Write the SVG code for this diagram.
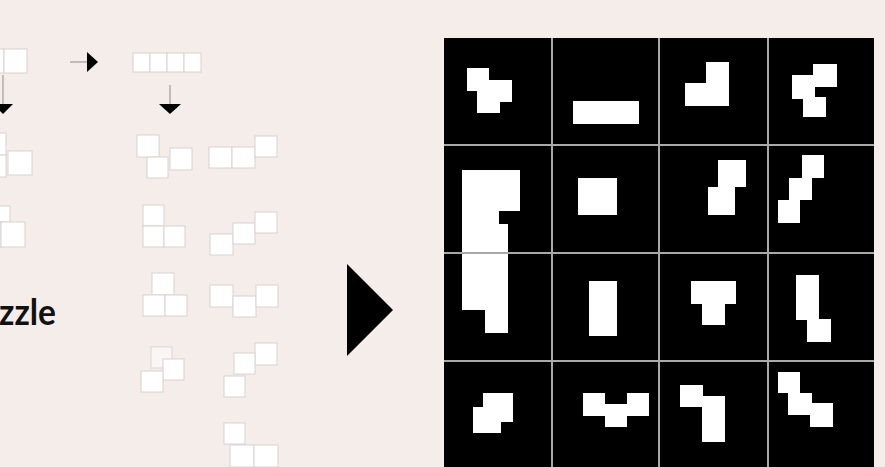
<svg xmlns="http://www.w3.org/2000/svg" width="885" height="467" viewBox="0 0 885 467">
<defs>
<style>
.p{fill:#ffffff;stroke:#d9d2cf;stroke-width:1}
.pf{fill:#f9f6f5;stroke:#dcd6d3;stroke-width:1}
.w{fill:#ffffff}
.gl{stroke:#a9a9a9;stroke-width:2}
.ln{stroke:#8f8a88;stroke-width:1;fill:none}
.ah{fill:#000000}
.t{font-family:Lato,"Noto Sans","Liberation Sans",sans-serif;font-weight:700;font-size:37px;fill:#111111}
</style>
</defs>
<rect x="0" y="0" width="885" height="467" fill="#f4edea"/>

<g id="piece-start">
<rect class="p" x="-20" y="49" width="24" height="24"/>
<rect class="p" x="4" y="49" width="23" height="24"/>
</g>
<g id="piece-bar">
<rect class="p" x="133" y="53" width="17" height="19"/>
<rect class="p" x="150" y="53" width="17" height="19"/>
<rect class="p" x="167" y="53" width="17" height="19"/>
<rect class="p" x="184" y="53" width="17" height="19"/>
</g>
<g id="piece-left-1">
<rect class="p" x="-16" y="133" width="22" height="22"/>
<rect class="p" x="-16" y="155" width="22" height="22"/>
<rect class="p" x="8" y="151" width="24" height="24"/>
</g>
<g id="piece-left-2">
<rect class="p" x="-12" y="206" width="22" height="16"/>
<rect class="p" x="-22" y="222" width="23" height="25"/>
<rect class="p" x="1" y="222" width="24" height="25"/>
</g>
<g id="piece-a">
<rect class="p" x="137" y="135" width="22" height="22"/>
<rect class="p" x="147" y="157" width="21" height="21"/>
<rect class="p" x="170" y="148" width="22" height="22"/>
</g>
<g id="piece-b">
<rect class="p" x="209" y="147" width="23" height="21"/>
<rect class="p" x="232" y="147" width="23" height="21"/>
<rect class="p" x="255" y="136" width="22" height="21"/>
</g>
<g id="piece-c">
<rect class="p" x="143" y="205" width="21" height="21"/>
<rect class="p" x="143" y="226" width="21" height="21"/>
<rect class="p" x="164" y="226" width="21" height="21"/>
</g>
<g id="piece-d">
<rect class="p" x="210" y="234" width="23" height="21"/>
<rect class="p" x="233" y="223" width="22" height="21"/>
<rect class="p" x="255" y="212" width="22" height="21"/>
</g>
<g id="piece-e">
<rect class="p" x="152" y="273" width="22" height="22"/>
<rect class="p" x="143" y="295" width="22" height="21"/>
<rect class="p" x="165" y="295" width="22" height="21"/>
</g>
<g id="piece-f">
<rect class="p" x="210" y="285" width="23" height="22"/>
<rect class="p" x="233" y="296" width="23" height="21"/>
<rect class="p" x="256" y="285" width="22" height="22"/>
</g>
<g id="piece-g">
<rect class="pf" x="151" y="347" width="21" height="21"/>
<rect class="p" x="163" y="359" width="21" height="21"/>
<rect class="p" x="141" y="371" width="22" height="21"/>
</g>
<g id="piece-h">
<rect class="p" x="255" y="343" width="22" height="22"/>
<rect class="p" x="234" y="353" width="21" height="21"/>
<rect class="p" x="224" y="376" width="21" height="21"/>
</g>
<g id="piece-i">
<rect class="p" x="224" y="423" width="21" height="21"/>
<rect class="p" x="230" y="445" width="24" height="22"/>
<rect class="p" x="254" y="445" width="24" height="22"/>
</g>

<g id="title">
<text class="t" x="-1" y="325" textLength="57" lengthAdjust="spacingAndGlyphs">zzle</text>
</g>

<g id="connectors">
<line class="ln" x1="3" y1="75" x2="3" y2="104"/>
<polygon class="ah" points="-7,104 13,104 3,114"/>
<line class="ln" x1="70" y1="62" x2="88" y2="62"/>
<polygon class="ah" points="87,52 87,72 98,62"/>
<line class="ln" x1="170" y1="85" x2="170" y2="104"/>
<polygon class="ah" points="159,104 181,104 170,114"/>
<polygon class="ah" points="347,264 347,356 393,310"/>
</g>

<g id="grid">
<rect x="444" y="38" width="430" height="432" fill="#000000"/>
<g id="cell-0-0"><polygon class="w" points="467,68 489,68 489,80 512,80 512,102 500,102 500,113 477,113 477,91 467,91"/></g>
<g id="cell-0-1"><rect class="w" x="573" y="101" width="66" height="23"/></g>
<g id="cell-0-2"><polygon class="w" points="706,62 729,62 729,106 685,106 685,83 706,83"/></g>
<g id="cell-0-3"><polygon class="w" points="813,64 837,64 837,87 815,87 815,97 826,97 826,117 803,117 803,99 792,99 792,75 813,75"/></g>
<g id="cell-1-0"><polygon class="w" points="462,170 520,170 520,211 499,211 499,224 508,224 508,333 485,333 485,310 462,310"/></g>
<g id="cell-1-1"><rect class="w" x="578" y="178" width="39" height="37"/></g>
<g id="cell-1-2"><polygon class="w" points="718,160 746,160 746,187 735,187 735,215 708,215 708,187 718,187"/></g>
<g id="cell-1-3"><polygon class="w" points="802,155 824,155 824,178 812,178 812,200 800,200 800,223 778,223 778,200 789,200 789,178 802,178"/></g>
<g id="cell-2-1"><rect class="w" x="589" y="281" width="28" height="55"/></g>
<g id="cell-2-2"><polygon class="w" points="691,281 736,281 736,304 725,304 725,325 702,325 702,304 691,304"/></g>
<g id="cell-2-3"><polygon class="w" points="796,275 819,275 819,319 831,319 831,342 807,342 807,320 796,320"/></g>
<g id="cell-3-0"><polygon class="w" points="483,393 513,393 513,422 501,422 501,433 473,433 473,407 483,407"/></g>
<g id="cell-3-1"><polygon class="w" points="583,393 605,393 605,404 627,404 627,393 649,393 649,416 627,416 627,427 605,427 605,416 583,416"/></g>
<g id="cell-3-2"><polygon class="w" points="680,385 703,385 703,396 725,396 725,442 702,442 702,407 680,407"/></g>
<g id="cell-3-3"><polygon class="w" points="778,372 800,372 800,393 812,393 812,403 833,403 833,427 810,427 810,415 788,415 788,393 778,393"/></g>
<line class="gl" x1="552" y1="38" x2="552" y2="470"/>
<line class="gl" x1="659" y1="38" x2="659" y2="470"/>
<line class="gl" x1="768" y1="38" x2="768" y2="470"/>
<line class="gl" x1="444" y1="145" x2="874" y2="145"/>
<line class="gl" x1="444" y1="253" x2="874" y2="253"/>
<line class="gl" x1="444" y1="361" x2="874" y2="361"/>
</g>
</svg>
